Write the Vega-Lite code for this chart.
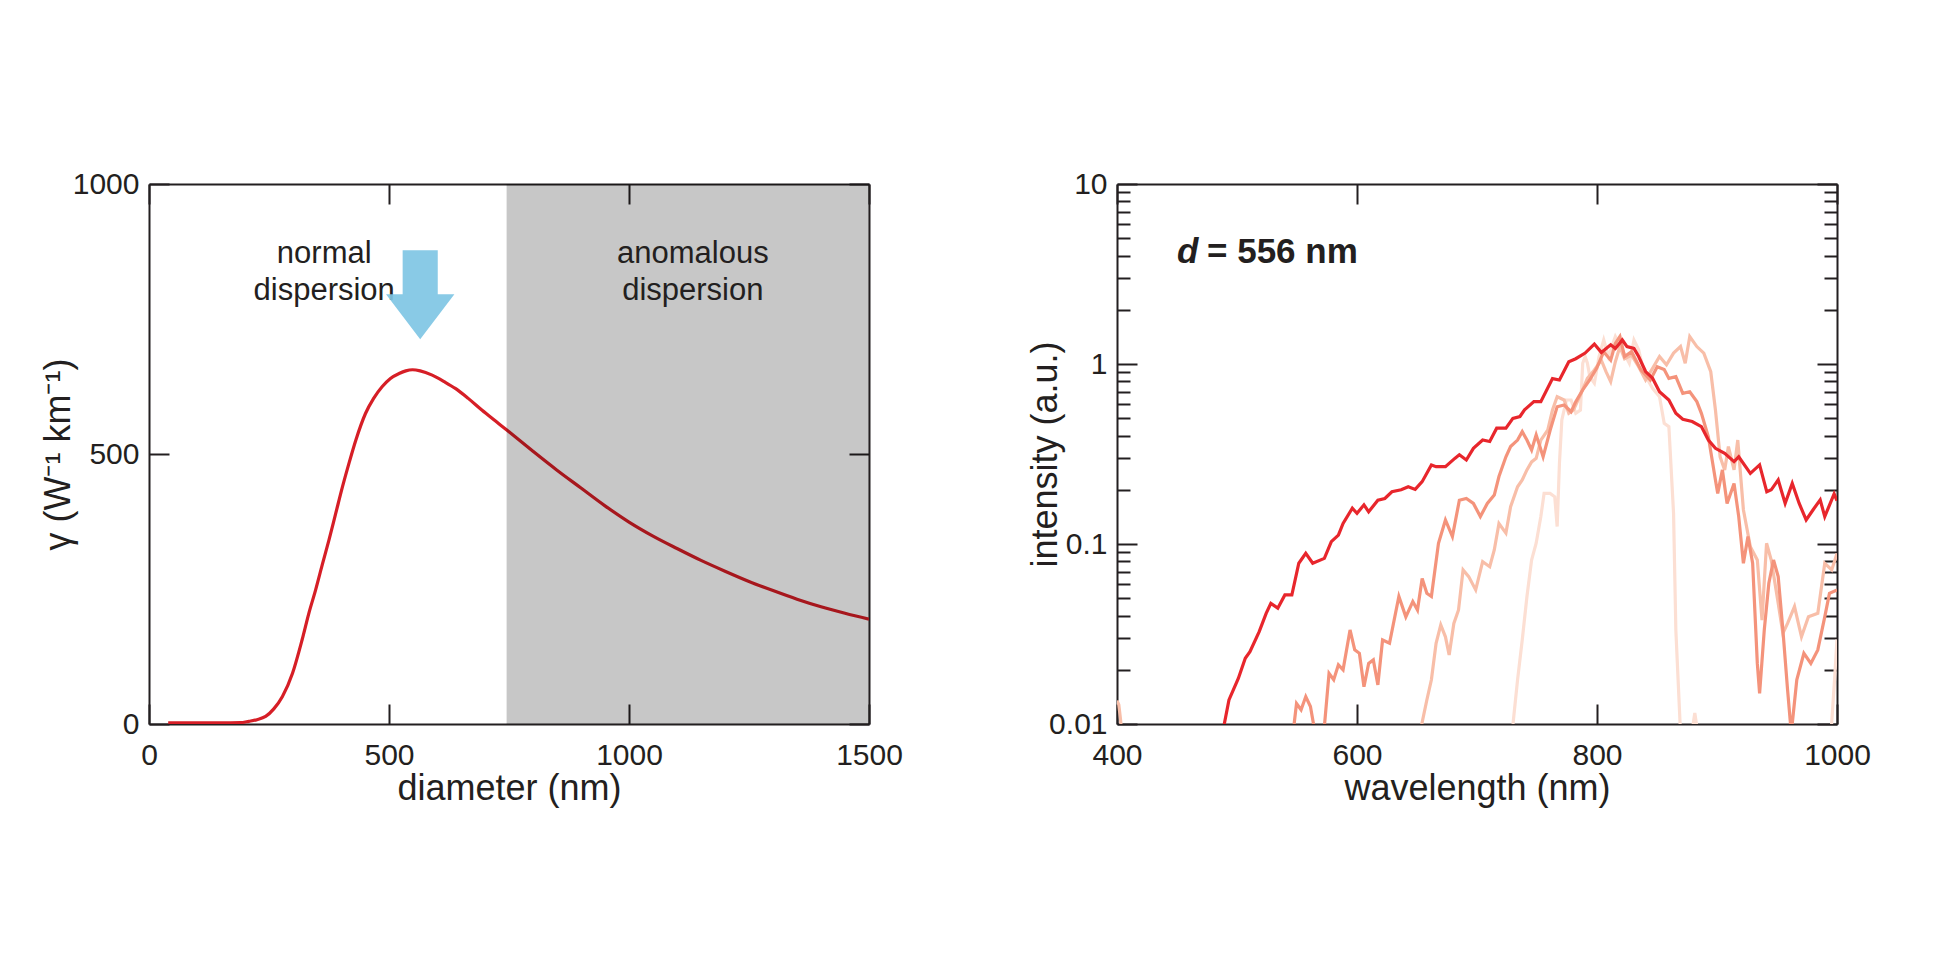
{
  "$schema": "https://vega.github.io/schema/vega-lite/v6.json",
  "padding": {"left": 40, "top": 169, "right": 5, "bottom": 5},
  "spacing": 124,
  "background": "white",
  "datasets": {
    "gamma": [
      {"d": 40, "g": 2}, {"d": 100, "g": 2}, {"d": 150, "g": 2}, {"d": 190, "g": 2.5}, {"d": 208, "g": 5},
      {"d": 225, "g": 8}, {"d": 243, "g": 14}, {"d": 260, "g": 28}, {"d": 278, "g": 51}, {"d": 299, "g": 94},
      {"d": 319, "g": 156}, {"d": 333, "g": 205}, {"d": 347, "g": 248}, {"d": 361, "g": 295}, {"d": 375, "g": 341},
      {"d": 389, "g": 390}, {"d": 403, "g": 439}, {"d": 417, "g": 484}, {"d": 431, "g": 526}, {"d": 451, "g": 575},
      {"d": 468, "g": 603}, {"d": 486, "g": 625}, {"d": 503, "g": 640}, {"d": 521, "g": 649}, {"d": 535, "g": 654},
      {"d": 549, "g": 656}, {"d": 565, "g": 654}, {"d": 590, "g": 646}, {"d": 615, "g": 634}, {"d": 639, "g": 621},
      {"d": 665, "g": 603}, {"d": 694, "g": 581}, {"d": 722, "g": 561}, {"d": 750, "g": 541}, {"d": 800, "g": 505},
      {"d": 850, "g": 470}, {"d": 900, "g": 437}, {"d": 950, "g": 404}, {"d": 1000, "g": 374}, {"d": 1050, "g": 348},
      {"d": 1100, "g": 325}, {"d": 1150, "g": 303}, {"d": 1200, "g": 283}, {"d": 1250, "g": 264}, {"d": 1300, "g": 247},
      {"d": 1350, "g": 231}, {"d": 1400, "g": 217}, {"d": 1450, "g": 205}, {"d": 1500, "g": 194}
    ],
    "regions": [{"x1": 745, "x2": 1500, "y1": 0, "y2": 1000}],
    "labels": [
      {"d": 365, "g": 853, "t": "normal"},
      {"d": 365, "g": 785, "t": "dispersion"},
      {"d": 1133, "g": 853, "t": "anomalous"},
      {"d": 1133, "g": 785, "t": "dispersion"}
    ],
    "arrow": [{"d": 565, "g": 795}],
    "spectra": [
      {"s": "p1", "w": 728, "I": 0.008}, {"s": "p1", "w": 730, "I": 0.0100}, {"s": "p1", "w": 733.8, "I": 0.0176},
      {"s": "p1", "w": 737.7, "I": 0.0293}, {"s": "p1", "w": 741.6, "I": 0.0509}, {"s": "p1", "w": 745.5, "I": 0.0815},
      {"s": "p1", "w": 749.3, "I": 0.101}, {"s": "p1", "w": 753.2, "I": 0.142}, {"s": "p1", "w": 755.9, "I": 0.191},
      {"s": "p1", "w": 760.9, "I": 0.191}, {"s": "p1", "w": 764.8, "I": 0.183}, {"s": "p1", "w": 766.8, "I": 0.125},
      {"s": "p1", "w": 768.7, "I": 0.281}, {"s": "p1", "w": 770.7, "I": 0.489}, {"s": "p1", "w": 774.5, "I": 0.631},
      {"s": "p1", "w": 778.4, "I": 0.631}, {"s": "p1", "w": 782.3, "I": 0.532}, {"s": "p1", "w": 786.2, "I": 0.555},
      {"s": "p1", "w": 788.1, "I": 1.01}, {"s": "p1", "w": 790.1, "I": 1.10}, {"s": "p1", "w": 792.0, "I": 1.01},
      {"s": "p1", "w": 794.0, "I": 0.851}, {"s": "p1", "w": 797.8, "I": 0.782}, {"s": "p1", "w": 801.7, "I": 1.10},
      {"s": "p1", "w": 805.6, "I": 1.36}, {"s": "p1", "w": 809.5, "I": 1.10}, {"s": "p1", "w": 815.3, "I": 1.42},
      {"s": "p1", "w": 821.1, "I": 1.20}, {"s": "p1", "w": 826.9, "I": 1.01}, {"s": "p1", "w": 830.8, "I": 1.36},
      {"s": "p1", "w": 834.7, "I": 1.20}, {"s": "p1", "w": 838.6, "I": 0.927}, {"s": "p1", "w": 842.4, "I": 0.815},
      {"s": "p1", "w": 846.3, "I": 0.733}, {"s": "p1", "w": 852.1, "I": 0.658}, {"s": "p1", "w": 856.0, "I": 0.468},
      {"s": "p1", "w": 859.9, "I": 0.449}, {"s": "p1", "w": 863.8, "I": 0.148}, {"s": "p1", "w": 865.7, "I": 0.0333},
      {"s": "p1", "w": 869.6, "I": 0.0089}, {"s": "p1", "w": 879.0, "I": 0.0089}, {"s": "p1", "w": 881.5, "I": 0.0115},
      {"s": "p1", "w": 884.0, "I": 0.0089}, {"s": "p1", "w": 994.0, "I": 0.0089}, {"s": "p1", "w": 995.5, "I": 0.0100},
      {"s": "p1", "w": 998.0, "I": 0.0178}, {"s": "p1", "w": 1000, "I": 0.0295},

      {"s": "p2", "w": 400, "I": 0.0135}, {"s": "p2", "w": 401.5, "I": 0.0128}, {"s": "p2", "w": 403, "I": 0.0105},
      {"s": "p2", "w": 404.5, "I": 0.008}, {"s": "p2", "w": 650, "I": 0.0085}, {"s": "p2", "w": 654, "I": 0.0100},
      {"s": "p2", "w": 658.2, "I": 0.0136}, {"s": "p2", "w": 662.0, "I": 0.0176}, {"s": "p2", "w": 665.9, "I": 0.0281},
      {"s": "p2", "w": 669.8, "I": 0.0355}, {"s": "p2", "w": 673.7, "I": 0.0305}, {"s": "p2", "w": 676.8, "I": 0.0242},
      {"s": "p2", "w": 680.7, "I": 0.0362}, {"s": "p2", "w": 684.6, "I": 0.0430}, {"s": "p2", "w": 688.4, "I": 0.0718},
      {"s": "p2", "w": 693.1, "I": 0.0659}, {"s": "p2", "w": 698.9, "I": 0.0556}, {"s": "p2", "w": 704.7, "I": 0.0798},
      {"s": "p2", "w": 710.6, "I": 0.0748}, {"s": "p2", "w": 714.4, "I": 0.0927}, {"s": "p2", "w": 718.3, "I": 0.130},
      {"s": "p2", "w": 724.1, "I": 0.115}, {"s": "p2", "w": 728.0, "I": 0.161}, {"s": "p2", "w": 733.8, "I": 0.208},
      {"s": "p2", "w": 737.7, "I": 0.227}, {"s": "p2", "w": 741.6, "I": 0.258}, {"s": "p2", "w": 745.5, "I": 0.286},
      {"s": "p2", "w": 749.3, "I": 0.299}, {"s": "p2", "w": 753.2, "I": 0.378}, {"s": "p2", "w": 759.0, "I": 0.430},
      {"s": "p2", "w": 762.9, "I": 0.555}, {"s": "p2", "w": 766.8, "I": 0.658}, {"s": "p2", "w": 772.6, "I": 0.631},
      {"s": "p2", "w": 776.5, "I": 0.532}, {"s": "p2", "w": 780.4, "I": 0.555}, {"s": "p2", "w": 786.2, "I": 0.673},
      {"s": "p2", "w": 792.0, "I": 0.832}, {"s": "p2", "w": 797.8, "I": 0.927}, {"s": "p2", "w": 803.6, "I": 1.05},
      {"s": "p2", "w": 807.5, "I": 0.906}, {"s": "p2", "w": 811.4, "I": 0.798}, {"s": "p2", "w": 815.3, "I": 1.03},
      {"s": "p2", "w": 819.1, "I": 1.25}, {"s": "p2", "w": 823.0, "I": 1.07}, {"s": "p2", "w": 828.8, "I": 1.12},
      {"s": "p2", "w": 834.7, "I": 0.966}, {"s": "p2", "w": 840.5, "I": 0.815}, {"s": "p2", "w": 846.3, "I": 0.946},
      {"s": "p2", "w": 852.1, "I": 1.10}, {"s": "p2", "w": 857.9, "I": 0.989}, {"s": "p2", "w": 863.8, "I": 1.15},
      {"s": "p2", "w": 869.6, "I": 1.25}, {"s": "p2", "w": 873.5, "I": 1.01}, {"s": "p2", "w": 877.3, "I": 1.42},
      {"s": "p2", "w": 883.2, "I": 1.25}, {"s": "p2", "w": 889.0, "I": 1.15}, {"s": "p2", "w": 894.8, "I": 0.906},
      {"s": "p2", "w": 898.7, "I": 0.555}, {"s": "p2", "w": 902.6, "I": 0.305}, {"s": "p2", "w": 906.4, "I": 0.258},
      {"s": "p2", "w": 909.5, "I": 0.348}, {"s": "p2", "w": 914.2, "I": 0.258}, {"s": "p2", "w": 917.3, "I": 0.378},
      {"s": "p2", "w": 922.0, "I": 0.155}, {"s": "p2", "w": 927.8, "I": 0.0966}, {"s": "p2", "w": 933.6, "I": 0.0815},
      {"s": "p2", "w": 937.5, "I": 0.0378}, {"s": "p2", "w": 941.3, "I": 0.101}, {"s": "p2", "w": 945.2, "I": 0.0815},
      {"s": "p2", "w": 951.0, "I": 0.0468}, {"s": "p2", "w": 954.9, "I": 0.0319}, {"s": "p2", "w": 958.8, "I": 0.0362},
      {"s": "p2", "w": 964.6, "I": 0.0449}, {"s": "p2", "w": 970.4, "I": 0.0305}, {"s": "p2", "w": 976.2, "I": 0.0394},
      {"s": "p2", "w": 984.0, "I": 0.0412}, {"s": "p2", "w": 989.8, "I": 0.0782}, {"s": "p2", "w": 995.6, "I": 0.0718},
      {"s": "p2", "w": 1000, "I": 0.0887},

      {"s": "p3", "w": 545, "I": 0.008}, {"s": "p3", "w": 547.6, "I": 0.0100}, {"s": "p3", "w": 549.6, "I": 0.0130},
      {"s": "p3", "w": 553.4, "I": 0.0120}, {"s": "p3", "w": 557.3, "I": 0.0142}, {"s": "p3", "w": 561.2, "I": 0.0125},
      {"s": "p3", "w": 565.1, "I": 0.0089}, {"s": "p3", "w": 570.9, "I": 0.0089}, {"s": "p3", "w": 573, "I": 0.0100},
      {"s": "p3", "w": 576.7, "I": 0.0191}, {"s": "p3", "w": 580.6, "I": 0.0176}, {"s": "p3", "w": 584.5, "I": 0.0213},
      {"s": "p3", "w": 588.4, "I": 0.0200}, {"s": "p3", "w": 594.2, "I": 0.0333}, {"s": "p3", "w": 598.1, "I": 0.0258},
      {"s": "p3", "w": 602.0, "I": 0.0247}, {"s": "p3", "w": 605.8, "I": 0.0161}, {"s": "p3", "w": 609.7, "I": 0.0217},
      {"s": "p3", "w": 613.6, "I": 0.0227}, {"s": "p3", "w": 617.4, "I": 0.0165}, {"s": "p3", "w": 621.3, "I": 0.0293},
      {"s": "p3", "w": 627.1, "I": 0.0281}, {"s": "p3", "w": 634.9, "I": 0.0511}, {"s": "p3", "w": 640.7, "I": 0.0394},
      {"s": "p3", "w": 646.5, "I": 0.0479}, {"s": "p3", "w": 650.4, "I": 0.0430}, {"s": "p3", "w": 654.3, "I": 0.0644},
      {"s": "p3", "w": 658.2, "I": 0.0532}, {"s": "p3", "w": 662.0, "I": 0.0511}, {"s": "p3", "w": 667.9, "I": 0.101},
      {"s": "p3", "w": 673.7, "I": 0.136}, {"s": "p3", "w": 679.5, "I": 0.110}, {"s": "p3", "w": 685.3, "I": 0.175},
      {"s": "p3", "w": 691.1, "I": 0.179}, {"s": "p3", "w": 697.0, "I": 0.168}, {"s": "p3", "w": 702.8, "I": 0.142},
      {"s": "p3", "w": 708.6, "I": 0.168}, {"s": "p3", "w": 714.4, "I": 0.187}, {"s": "p3", "w": 718.3, "I": 0.237},
      {"s": "p3", "w": 724.1, "I": 0.305}, {"s": "p3", "w": 728.0, "I": 0.348}, {"s": "p3", "w": 733.8, "I": 0.378},
      {"s": "p3", "w": 737.7, "I": 0.421}, {"s": "p3", "w": 741.6, "I": 0.378}, {"s": "p3", "w": 745.5, "I": 0.333},
      {"s": "p3", "w": 749.3, "I": 0.404}, {"s": "p3", "w": 755.1, "I": 0.305}, {"s": "p3", "w": 761.0, "I": 0.430},
      {"s": "p3", "w": 766.8, "I": 0.579}, {"s": "p3", "w": 772.6, "I": 0.592}, {"s": "p3", "w": 778.4, "I": 0.543},
      {"s": "p3", "w": 782.3, "I": 0.618}, {"s": "p3", "w": 788.1, "I": 0.718}, {"s": "p3", "w": 793.9, "I": 0.815},
      {"s": "p3", "w": 799.7, "I": 0.946}, {"s": "p3", "w": 805.6, "I": 1.17}, {"s": "p3", "w": 811.4, "I": 1.05},
      {"s": "p3", "w": 815.3, "I": 1.30}, {"s": "p3", "w": 819.1, "I": 1.42}, {"s": "p3", "w": 823.0, "I": 1.10},
      {"s": "p3", "w": 828.8, "I": 1.17}, {"s": "p3", "w": 836.6, "I": 0.927}, {"s": "p3", "w": 844.4, "I": 0.815},
      {"s": "p3", "w": 850.2, "I": 0.966}, {"s": "p3", "w": 856.0, "I": 0.933}, {"s": "p3", "w": 859.9, "I": 0.832},
      {"s": "p3", "w": 865.7, "I": 0.851}, {"s": "p3", "w": 871.5, "I": 0.687}, {"s": "p3", "w": 877.3, "I": 0.701},
      {"s": "p3", "w": 883.2, "I": 0.618}, {"s": "p3", "w": 887.0, "I": 0.532}, {"s": "p3", "w": 892.8, "I": 0.394},
      {"s": "p3", "w": 898.7, "I": 0.227}, {"s": "p3", "w": 900.6, "I": 0.191}, {"s": "p3", "w": 904.5, "I": 0.258},
      {"s": "p3", "w": 908.4, "I": 0.168}, {"s": "p3", "w": 914.2, "I": 0.217}, {"s": "p3", "w": 918.1, "I": 0.142},
      {"s": "p3", "w": 922.0, "I": 0.0782}, {"s": "p3", "w": 925.8, "I": 0.110}, {"s": "p3", "w": 929.7, "I": 0.0782},
      {"s": "p3", "w": 933.6, "I": 0.0217}, {"s": "p3", "w": 935.5, "I": 0.0148}, {"s": "p3", "w": 939.4, "I": 0.0333},
      {"s": "p3", "w": 943.2, "I": 0.0605}, {"s": "p3", "w": 947.1, "I": 0.0815}, {"s": "p3", "w": 951.0, "I": 0.0659},
      {"s": "p3", "w": 954.9, "I": 0.0333}, {"s": "p3", "w": 958.8, "I": 0.0155}, {"s": "p3", "w": 961.9, "I": 0.0089},
      {"s": "p3", "w": 966.5, "I": 0.0176}, {"s": "p3", "w": 972.4, "I": 0.0247}, {"s": "p3", "w": 978.2, "I": 0.0217},
      {"s": "p3", "w": 984.0, "I": 0.0258}, {"s": "p3", "w": 989.8, "I": 0.0394}, {"s": "p3", "w": 993.7, "I": 0.0532},
      {"s": "p3", "w": 1000, "I": 0.0556},

      {"s": "p4", "w": 488, "I": 0.009}, {"s": "p4", "w": 489.4, "I": 0.0100}, {"s": "p4", "w": 493.3, "I": 0.0136},
      {"s": "p4", "w": 501.1, "I": 0.0179}, {"s": "p4", "w": 506.9, "I": 0.0232}, {"s": "p4", "w": 510.8, "I": 0.0252},
      {"s": "p4", "w": 518.5, "I": 0.0326}, {"s": "p4", "w": 524.3, "I": 0.0412}, {"s": "p4", "w": 528.2, "I": 0.0468},
      {"s": "p4", "w": 534.0, "I": 0.0440}, {"s": "p4", "w": 539.9, "I": 0.0521}, {"s": "p4", "w": 545.7, "I": 0.0521},
      {"s": "p4", "w": 551.5, "I": 0.0782}, {"s": "p4", "w": 557.3, "I": 0.0887}, {"s": "p4", "w": 563.1, "I": 0.0782},
      {"s": "p4", "w": 572.8, "I": 0.0832}, {"s": "p4", "w": 578.6, "I": 0.103}, {"s": "p4", "w": 584.5, "I": 0.112},
      {"s": "p4", "w": 588.4, "I": 0.130}, {"s": "p4", "w": 596.1, "I": 0.158}, {"s": "p4", "w": 600.0, "I": 0.148},
      {"s": "p4", "w": 605.8, "I": 0.165}, {"s": "p4", "w": 609.7, "I": 0.151}, {"s": "p4", "w": 617.4, "I": 0.175},
      {"s": "p4", "w": 623.2, "I": 0.179}, {"s": "p4", "w": 629.1, "I": 0.195}, {"s": "p4", "w": 636.8, "I": 0.200},
      {"s": "p4", "w": 642.7, "I": 0.208}, {"s": "p4", "w": 648.5, "I": 0.201}, {"s": "p4", "w": 654.3, "I": 0.222},
      {"s": "p4", "w": 662.0, "I": 0.275}, {"s": "p4", "w": 665.9, "I": 0.269}, {"s": "p4", "w": 673.7, "I": 0.269},
      {"s": "p4", "w": 681.5, "I": 0.299}, {"s": "p4", "w": 685.3, "I": 0.313}, {"s": "p4", "w": 691.1, "I": 0.293},
      {"s": "p4", "w": 697.0, "I": 0.340}, {"s": "p4", "w": 704.7, "I": 0.378}, {"s": "p4", "w": 710.6, "I": 0.371},
      {"s": "p4", "w": 716.4, "I": 0.440}, {"s": "p4", "w": 724.1, "I": 0.440}, {"s": "p4", "w": 729.9, "I": 0.499},
      {"s": "p4", "w": 735.8, "I": 0.511}, {"s": "p4", "w": 739.6, "I": 0.556}, {"s": "p4", "w": 747.4, "I": 0.618},
      {"s": "p4", "w": 753.2, "I": 0.618}, {"s": "p4", "w": 762.9, "I": 0.830}, {"s": "p4", "w": 768.7, "I": 0.815},
      {"s": "p4", "w": 776.5, "I": 1.03}, {"s": "p4", "w": 782.3, "I": 1.07}, {"s": "p4", "w": 790.1, "I": 1.15},
      {"s": "p4", "w": 797.8, "I": 1.29}, {"s": "p4", "w": 803.6, "I": 1.16}, {"s": "p4", "w": 811.4, "I": 1.28},
      {"s": "p4", "w": 815.3, "I": 1.22}, {"s": "p4", "w": 821.1, "I": 1.36}, {"s": "p4", "w": 825.0, "I": 1.25},
      {"s": "p4", "w": 830.8, "I": 1.22}, {"s": "p4", "w": 834.7, "I": 1.10}, {"s": "p4", "w": 840.5, "I": 0.908},
      {"s": "p4", "w": 846.3, "I": 0.834}, {"s": "p4", "w": 852.1, "I": 0.701}, {"s": "p4", "w": 859.9, "I": 0.631},
      {"s": "p4", "w": 865.7, "I": 0.532}, {"s": "p4", "w": 871.5, "I": 0.493}, {"s": "p4", "w": 879.3, "I": 0.479},
      {"s": "p4", "w": 887.0, "I": 0.449}, {"s": "p4", "w": 892.8, "I": 0.378}, {"s": "p4", "w": 898.7, "I": 0.340},
      {"s": "p4", "w": 906.4, "I": 0.319}, {"s": "p4", "w": 914.2, "I": 0.287}, {"s": "p4", "w": 918.1, "I": 0.305},
      {"s": "p4", "w": 927.8, "I": 0.247}, {"s": "p4", "w": 935.5, "I": 0.275}, {"s": "p4", "w": 941.5, "I": 0.195},
      {"s": "p4", "w": 945.2, "I": 0.200}, {"s": "p4", "w": 951.0, "I": 0.227}, {"s": "p4", "w": 956.8, "I": 0.168},
      {"s": "p4", "w": 962.7, "I": 0.217}, {"s": "p4", "w": 968.5, "I": 0.168}, {"s": "p4", "w": 974.3, "I": 0.136},
      {"s": "p4", "w": 980.1, "I": 0.155}, {"s": "p4", "w": 986.0, "I": 0.176}, {"s": "p4", "w": 989.8, "I": 0.142},
      {"s": "p4", "w": 997.6, "I": 0.190}, {"s": "p4", "w": 1000, "I": 0.174}
    ],
    "note1": [{"w": 450, "I": 3.65, "t": "d"}],
    "note2": [{"w": 475, "I": 3.65, "t": "= 556 nm"}]
  },
  "hconcat": [
    {
      "width": 720,
      "height": 540,
      "resolve": {"axis": {"x": "independent", "y": "independent"}},
      "layer": [
        {
          "data": {"name": "gamma"},
          "mark": {"type": "line", "color": "#d61e26", "strokeWidth": 3.2, "interpolate": "monotone", "clip": true},
          "encoding": {
            "x": {"field": "d", "type": "quantitative", "scale": {"domain": [0, 1500], "nice": false, "zero": false},
                  "axis": {"orient": "bottom", "values": [0, 500, 1000, 1500], "format": "d", "title": "diameter (nm)"}},
            "y": {"field": "g", "type": "quantitative", "scale": {"domain": [0, 1000], "nice": false},
                  "axis": {"orient": "left", "values": [0, 500, 1000], "format": "d", "title": "γ (W⁻¹ km⁻¹)", "titlePadding": -5}}
          }
        },
        {
          "data": {"name": "regions"},
          "mark": {"type": "rect", "color": "#000000", "opacity": 0.22},
          "encoding": {
            "x": {"field": "x1", "type": "quantitative", "axis": null},
            "x2": {"field": "x2"},
            "y": {"field": "y1", "type": "quantitative", "axis": null},
            "y2": {"field": "y2"}
          }
        },
        {
          "data": {"name": "labels"},
          "mark": {"type": "text", "fontSize": 31, "align": "center", "baseline": "alphabetic", "color": "#231f20", "font": "Liberation Sans"},
          "encoding": {
            "x": {"field": "d", "type": "quantitative", "axis": null},
            "y": {"field": "g", "type": "quantitative", "axis": null},
            "text": {"field": "t"}
          }
        },
        {
          "data": {"name": "arrow"},
          "mark": {"type": "point", "shape": "M-0.39,-0.99L0.39,-0.99L0.39,-0.01L0.76,-0.01L0,0.99L-0.76,-0.01L-0.39,-0.01Z", "size": 8100, "filled": true, "color": "#7fc6e4", "opacity": 0.92, "strokeWidth": 0},
          "encoding": {
            "x": {"field": "d", "type": "quantitative", "axis": null},
            "y": {"field": "g", "type": "quantitative", "axis": null}
          }
        },
        {
          "data": {"name": "gamma"},
          "mark": {"type": "point", "opacity": 0},
          "encoding": {
            "x": {"field": "d", "type": "quantitative", "axis": {"orient": "top", "values": [0, 500, 1000, 1500], "labels": false, "title": null}},
            "y": {"field": "g", "type": "quantitative", "axis": {"orient": "right", "values": [0, 500, 1000], "labels": false, "title": null}}
          }
        }
      ]
    },
    {
      "width": 720,
      "height": 540,
      "resolve": {"axis": {"x": "independent", "y": "independent"}},
      "layer": [
        {
          "data": {"name": "spectra"},
          "mark": {"type": "line", "strokeWidth": 3.2, "clip": true},
          "encoding": {
            "x": {"field": "w", "type": "quantitative", "scale": {"domain": [400, 1000], "nice": false, "zero": false},
                  "axis": {"orient": "bottom", "values": [400, 600, 800, 1000], "format": "d", "title": "wavelength (nm)"}},
            "y": {"field": "I", "type": "quantitative", "scale": {"type": "log", "domain": [0.01, 10], "nice": false},
                  "axis": {"orient": "left", "title": "intensity (a.u.)", "titlePadding": -16,
                           "values": [0.01, 0.02, 0.03, 0.04, 0.05, 0.06, 0.07, 0.08, 0.09, 0.1, 0.2, 0.3, 0.4, 0.5, 0.6, 0.7, 0.8, 0.9, 1, 2, 3, 4, 5, 6, 7, 8, 9, 10],
                           "format": "~g",
                           "labelExpr": "indexof([0.01, 0.1, 1, 10], datum.value) >= 0 ? datum.label : ''",
                           "tickSize": {"condition": {"test": "indexof([0.01, 0.1, 1, 10], datum.value) >= 0", "value": -20}, "value": -13}}},
            "color": {"field": "s", "type": "nominal", "scale": {"domain": ["p1", "p2", "p3", "p4"], "range": ["#fcdfd3", "#f8bea8", "#f4937b", "#e8262c"]}, "legend": null}
          }
        },
        {
          "data": {"name": "note1"},
          "mark": {"type": "text", "fontSize": 35, "fontWeight": "bold", "fontStyle": "italic", "align": "left", "baseline": "alphabetic", "color": "#231f20", "font": "Liberation Sans"},
          "encoding": {
            "x": {"field": "w", "type": "quantitative", "axis": null},
            "y": {"field": "I", "type": "quantitative", "axis": null},
            "text": {"field": "t"}
          }
        },
        {
          "data": {"name": "note2"},
          "mark": {"type": "text", "fontSize": 35, "fontWeight": "bold", "align": "left", "baseline": "alphabetic", "color": "#231f20", "font": "Liberation Sans"},
          "encoding": {
            "x": {"field": "w", "type": "quantitative", "axis": null},
            "y": {"field": "I", "type": "quantitative", "axis": null},
            "text": {"field": "t"}
          }
        },
        {
          "data": {"name": "spectra"},
          "mark": {"type": "point", "opacity": 0},
          "encoding": {
            "x": {"field": "w", "type": "quantitative", "axis": {"orient": "top", "values": [400, 600, 800, 1000], "labels": false, "title": null}},
            "y": {"field": "I", "type": "quantitative",
                  "axis": {"orient": "right", "labels": false, "title": null,
                           "values": [0.01, 0.02, 0.03, 0.04, 0.05, 0.06, 0.07, 0.08, 0.09, 0.1, 0.2, 0.3, 0.4, 0.5, 0.6, 0.7, 0.8, 0.9, 1, 2, 3, 4, 5, 6, 7, 8, 9, 10],
                           "tickSize": {"condition": {"test": "indexof([0.01, 0.1, 1, 10], datum.value) >= 0", "value": -20}, "value": -13}}}
          }
        }
      ]
    }
  ],
  "config": {
    "font": "Liberation Sans",
    "view": {"stroke": null},
    "axis": {
      "domainColor": "#231f20", "domainWidth": 2, "tickColor": "#231f20", "tickWidth": 2, "tickSize": -20,
      "labelFont": "Liberation Sans", "labelFontSize": 30, "labelColor": "#231f20",
      "titleFont": "Liberation Sans", "titleFontSize": 36, "titleFontWeight": "normal", "titleColor": "#231f20",
      "grid": false, "labelOverlap": false, "labelBound": false, "labelFlush": false
    },
    "axisX": {"labelPadding": 36, "titlePadding": 1},
    "axisY": {"labelPadding": 30}
  }
}
